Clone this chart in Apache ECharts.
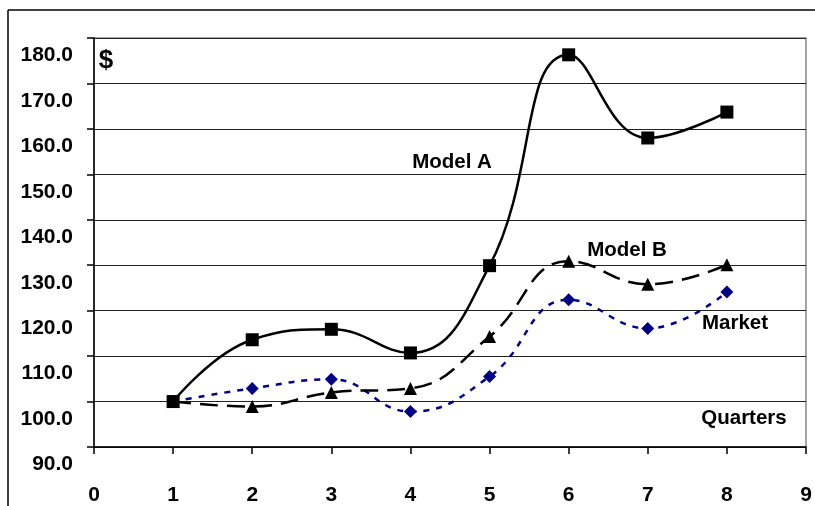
<!DOCTYPE html>
<html>
<head>
<meta charset="utf-8">
<script src="https://cdn.jsdelivr.net/npm/echarts@6/dist/echarts.min.js"></script>
<style>html,body{margin:0;padding:0;background:#fff}#c{width:815px;height:506px}</style>
</head>
<body>
<div id="c"></div>
<script>
const quarters = [1, 2, 3, 4, 5, 6, 7, 8];
const modelA = [100, 113.6, 115.9, 110.7, 129.9, 176.3, 158.0, 163.7];
const modelB = [100, 98.9, 102.0, 102.9, 114.3, 130.9, 125.8, 130.1];
const market = [100, 102.9, 104.9, 97.8, 105.5, 122.4, 116.1, 124.1];
const xTicks = [0, 9, 1];
const yTicks = [90, 180, 10];

const pairs = arr => quarters.map((q, i) => [q, arr[i]]);
const chart = echarts.init(document.getElementById('c'));
const font = 'Liberation Sans, Arial, sans-serif';
chart.setOption({
  animation: false,
  backgroundColor: '#fff',
  grid: { left: 94, top: 38, right: 9, bottom: 56, show: true, borderColor: '#888', borderWidth: 1.5 },
  xAxis: {
    type: 'value', min: xTicks[0], max: xTicks[1], interval: xTicks[2],
    axisLine: { show: true, onZero: false, lineStyle: { color: '#000', width: 1.5 } },
    axisTick: { show: true, inside: false, length: 7, lineStyle: { color: '#000', width: 1.5 } },
    splitLine: { show: false },
    axisLabel: { color: '#000', fontFamily: font, fontWeight: 'bold', fontSize: 21, margin: 38 }
  },
  yAxis: {
    type: 'value', min: yTicks[0], max: yTicks[1], interval: yTicks[2],
    axisLine: { show: true, onZero: false, lineStyle: { color: '#000', width: 1.5 } },
    axisTick: { show: true, inside: false, length: 7, lineStyle: { color: '#000', width: 1.5 } },
    splitLine: { show: true, lineStyle: { color: '#222', width: 1.2 } },
    axisLabel: { color: '#000', fontFamily: font, fontWeight: 'bold', fontSize: 21, margin: 21,
      formatter: v => v.toFixed(1), verticalAlign: 'top', lineHeight: 35 }
  },
  series: [
    { name: 'Model A', type: 'line', data: pairs(modelA), smooth: 0.45,
      symbol: 'rect', symbolSize: 13, itemStyle: { color: '#000' },
      lineStyle: { color: '#000', width: 2.5, type: 'solid' }, z: 3 },
    { name: 'Model B', type: 'line', data: pairs(modelB), smooth: 0.45,
      symbol: 'triangle', symbolSize: 13, itemStyle: { color: '#000' },
      lineStyle: { color: '#000', width: 2.5, type: [18, 9] }, z: 2 },
    { name: 'Market', type: 'line', data: pairs(market), smooth: 0.45,
      symbol: 'diamond', symbolSize: 13, itemStyle: { color: '#000080' },
      lineStyle: { color: '#000080', width: 2.5, type: [6, 7] }, z: 1 }
  ],
  graphic: [
    { type: 'line', shape: { x1: 8, y1: 10, x2: 8, y2: 506 }, style: { stroke: '#000', lineWidth: 1.5 } },
    { type: 'line', shape: { x1: 8, y1: 10, x2: 815, y2: 10 }, style: { stroke: '#000', lineWidth: 1.5 } },
    { type: 'text', x: 106, y: 61, style: { text: '$', font: 'bold 26px ' + font, fill: '#000', align: 'center', verticalAlign: 'middle' } },
    { type: 'text', x: 452, y: 162, style: { text: 'Model A', font: 'bold 20.5px ' + font, fill: '#000', align: 'center', verticalAlign: 'middle' } },
    { type: 'text', x: 627, y: 250, style: { text: 'Model B', font: 'bold 20.5px ' + font, fill: '#000', align: 'center', verticalAlign: 'middle' } },
    { type: 'text', x: 735, y: 323, style: { text: 'Market', font: 'bold 20.5px ' + font, fill: '#000', align: 'center', verticalAlign: 'middle' } },
    { type: 'text', x: 744, y: 418, style: { text: 'Quarters', font: 'bold 20.5px ' + font, fill: '#000', align: 'center', verticalAlign: 'middle' } }
  ]
});
</script>
</body>
</html>
